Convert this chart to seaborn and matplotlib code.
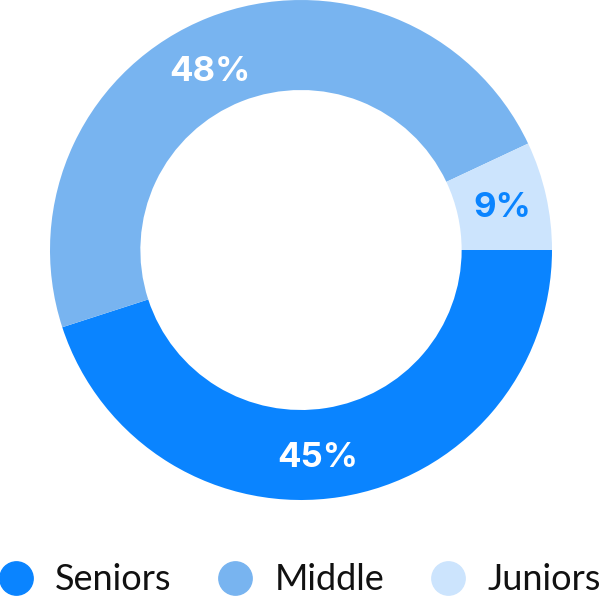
import numpy as np
import seaborn as sns
import matplotlib.pyplot as plt
from matplotlib.lines import Line2D

# dane
grupe = ["Seniors", "Middle", "Juniors"]
udjeli = [45, 48, 7]             # velicina isjecka kako je nacrtano
natpisi = ["45%", "48%", "9%"]   # tekst na grafiku
boje = ["#0a84ff", "#78b4f0", "#cce4fd"]
boje_teksta = ["white", "white", "#0a84ff"]
# mali pomaci natpisa (u pikselima) da sjednu kao na originalu
pomaci = [(-16, -6), (-15, -13), (0, -3)]

sns.set_theme(style="white")
plt.rcParams['font.family'] = ['Lato', 'DejaVu Sans']

fig = plt.figure(figsize=(6, 6), dpi=100)
ax = fig.add_axes([50/600, 100/600, 502/600, 500/600])

klinovi, _ = ax.pie(udjeli, colors=boje, startangle=0, counterclock=False,
                    radius=1, wedgeprops=dict(width=0.36, linewidth=0))
ax.set_xlim(-1, 1)
ax.set_ylim(-1, 1)
ax.set_aspect('auto')

r = 0.82
for k, t, c, (dx, dy) in zip(klinovi, natpisi, boje_teksta, pomaci):
    ugao = np.deg2rad((k.theta1 + k.theta2) / 2)
    ax.annotate(t, (r * np.cos(ugao), r * np.sin(ugao)),
                xytext=(dx * 0.72, dy * 0.72), textcoords='offset points',
                color=c, fontsize=25, fontweight='bold', family=['Inter', 'DejaVu Sans'],
                ha='center', va='center')

rucke = [Line2D([0], [0], marker='o', linestyle='', markersize=24,
                markerfacecolor=b, markeredgecolor=b) for b in boje]
leg = fig.legend(rucke, grupe, loc='center', bbox_to_anchor=(0.5, 1 - 580/600),
                 ncol=3, frameon=False, prop=dict(family='Lato', size=26, weight='normal'),
                 handlelength=0.9, handletextpad=0.65, columnspacing=1.3,
                 borderaxespad=0, borderpad=0)
for t in leg.get_texts():
    t.set_color("#111111")

fig.savefig("out.png", dpi=100)
